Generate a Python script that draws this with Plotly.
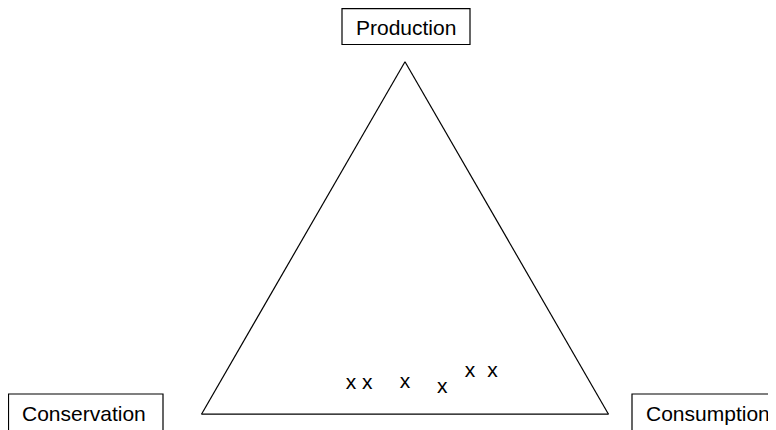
import plotly.graph_objects as go

# vertex labels of the triangle (a = top, b = bottom-left, c = bottom-right)
production_label = "Production"
conservation_label = "Conservation"
consumption_label = "Consumption"

# share of each point towards the three corners
production = [0.085, 0.085, 0.09, 0.075, 0.12, 0.12]
conservation = [0.59, 0.55, 0.455, 0.371, 0.28, 0.225]
consumption = [0.325, 0.365, 0.455, 0.554, 0.60, 0.655]
point_marks = ["x"] * len(production)

FONT = "Liberation Sans, Arial, Helvetica, sans-serif"
# the page body adds an 8px offset, so positions below are shifted 8px up/left
W, H = 776, 430

fig = go.Figure()
fig.add_trace(go.Scatterternary(
    a=production,
    b=conservation,
    c=consumption,
    mode="text",
    text=point_marks,
    textposition="middle center",
    textfont=dict(family=FONT, size=21, color="black"),
    hoverinfo="skip",
    showlegend=False,
))

hidden_axis = dict(
    showline=True, linecolor="black", linewidth=1.2,
    showgrid=False, showticklabels=False, ticks="",
    title=dict(text=""),
)

fig.update_layout(
    width=W,
    height=H,
    margin=dict(l=0, r=0, t=0, b=0),
    paper_bgcolor="white",
    plot_bgcolor="white",
    ternary=dict(
        domain=dict(x=[193.5 / W, 600.5 / W], y=[0.055, 0.8755]),
        bgcolor="white",
        sum=1,
        aaxis=hidden_axis,
        baxis=hidden_axis,
        caxis=hidden_axis,
    ),
)

# boxed corner labels: (text, text x, text y, box x0, x1, y0, y1) in pixels
boxes = [
    (production_label, 398.3, 19.7, 334, 462, 0.6, 36.5),
    (conservation_label, 76, 405.5, 0.5, 155, 386, 423),
    (consumption_label, 700, 405.5, 624, 779, 386, 423),
]
for label, tx, ty, x0, x1, y0, y1 in boxes:
    fig.add_shape(
        type="rect", xref="paper", yref="paper",
        x0=x0 / W, x1=x1 / W, y0=(H - y1) / H, y1=(H - y0) / H,
        line=dict(color="black", width=1.2),
        fillcolor="white",
    )
    fig.add_annotation(
        text=label,
        x=tx / W, y=(H - ty) / H, xref="paper", yref="paper",
        xanchor="center", yanchor="middle",
        showarrow=False,
        font=dict(family=FONT, size=21, color="black"),
    )

fig.write_html("out.html")
